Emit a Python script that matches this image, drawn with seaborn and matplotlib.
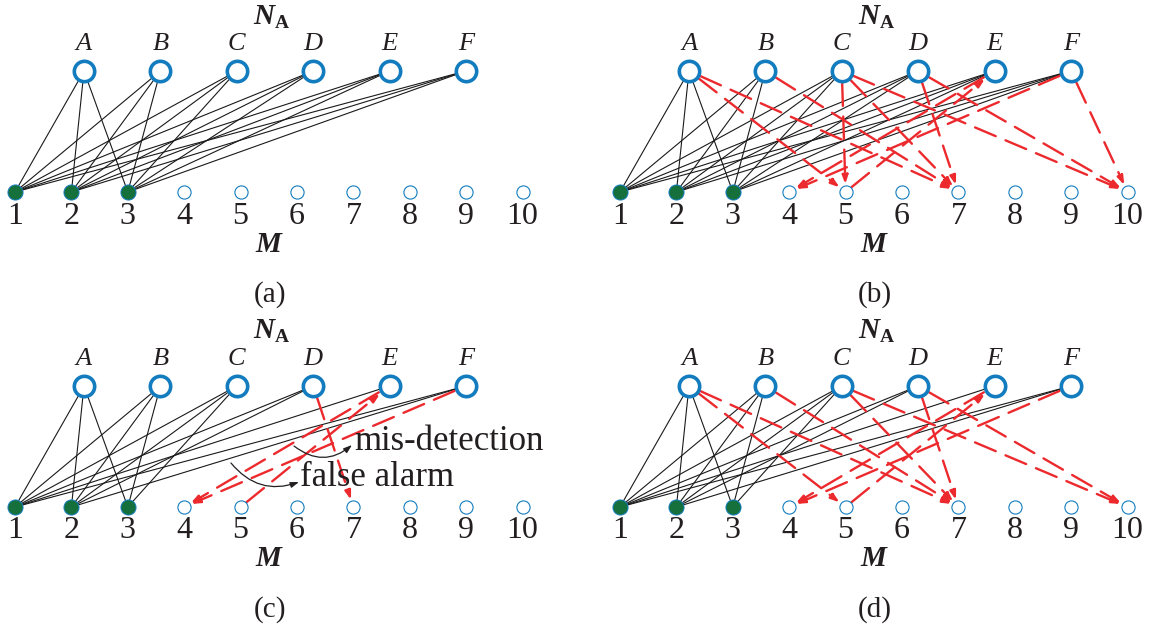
import numpy as np
import pandas as pd
import matplotlib
matplotlib.use("Agg")
import matplotlib.pyplot as plt
import seaborn as sns

# ---------------- data ----------------
top_labels = ["A", "B", "C", "D", "E", "F"]
bottom_labels = ["1", "2", "3", "4", "5", "6", "7", "8", "9", "10"]
active_bottom = ["1", "2", "3"]
panel_captions = ["(a)", "(b)", "(c)", "(d)"]

black_a = ["A1", "A2", "A3", "B1", "B2", "B3", "C1", "C2", "C3",
           "D1", "D2", "D3", "E1", "E2", "E3", "F1", "F2", "F3"]
black_b = ["A1", "A2", "A3", "B1", "B2", "B3", "C1", "C2", "C3",
           "D1", "D2", "D3", "E1", "E2", "E3", "F1", "F2", "F3"]
black_c = ["A1", "A2", "A3", "B1", "B2", "B3", "C1", "C2", "C3",
           "D1", "D2", "E1", "F1", "F2"]
black_d = ["A1", "A2", "A3", "B1", "B2", "B3", "C1", "C2", "C3",
           "D1", "D2", "E1", "F1", "F2"]

red_a = []
red_b = [("A", "5"), ("A", "7"), ("B", "7"), ("C", "5"), ("C", "7"), ("C", "10"),
         ("D", "7"), ("D", "10"), ("E", "4"), ("F", "4"), ("5", "E"), ("F", "10")]
red_c = [("D", "7"), ("E", "4"), ("F", "4"), ("5", "E")]
red_d = [("A", "5"), ("A", "7"), ("B", "7"), ("C", "7"), ("C", "10"),
         ("D", "7"), ("D", "10"), ("E", "4"), ("F", "4"), ("5", "E")]

black_edges = [black_a, black_b, black_c, black_d]
red_edges = [red_a, red_b, red_c, red_d]

annot_texts = ["mis-detection", "false alarm"]

# ---------------- layout / style ----------------
W, H = 1159, 630
OFFSETS = [(0, 0), (605, 0), (0, 315), (605, 315)]
TOP_X0, TOP_DX, TOP_Y = 84, 76.4, 71
BOT_X0, BOT_DX, BOT_Y = 15, 56.4, 192
BLUE = "#137cbf"
GREEN = "#16703c"
RED = "#ec2a2e"
INK = "#231f20"

sns.set_style("white")
plt.rcParams["font.family"] = ["Liberation Serif", "DejaVu Serif"]


def pos(node, p):
    ox, oy = OFFSETS[p]
    if node in top_labels:
        return ox + TOP_X0 + top_labels.index(node) * TOP_DX, oy + TOP_Y
    return ox + BOT_X0 + bottom_labels.index(node) * BOT_DX, oy + BOT_Y


def split_edge(e):
    return e[0], e[1:]


fig = plt.figure(figsize=(W / 100, H / 100), dpi=100)
ax = fig.add_axes([0, 0, 1, 1])

# black edges
rows = []
for p, edges in enumerate(black_edges):
    for e in edges:
        t, b = split_edge(e)
        for n in (t, b):
            x, y = pos(n, p)
            rows.append({"x": x, "y": y, "edge": f"{p}-{e}"})
df_black = pd.DataFrame(rows)
sns.lineplot(data=df_black, x="x", y="y", units="edge", estimator=None,
             sort=False, color="#1a1a1a", lw=0.8, ax=ax, zorder=2, legend=False)

# red dashed arrows
for p, edges in enumerate(red_edges):
    for s, d in edges:
        xs, ys = pos(s, p)
        xd, yd = pos(d, p)
        sA = 9.0 if s in top_labels else 5.5
        sB = 9.0 if d in top_labels else 5.5
        ax.annotate("", xy=(xd, yd), xytext=(xs, ys),
                    arrowprops=dict(arrowstyle="-|>,head_length=0.5,head_width=0.17",
                                    color=RED, lw=1.7, linestyle=(0, (9.5, 4.5)),
                                    shrinkA=sA, shrinkB=sB),
                    zorder=2.5)

# nodes
node_rows = []
for p in range(4):
    for n in top_labels:
        x, y = pos(n, p)
        node_rows.append({"x": x, "y": y, "kind": "top", "label": n, "panel": p})
    for n in bottom_labels:
        x, y = pos(n, p)
        kind = "active" if n in active_bottom else "idle"
        node_rows.append({"x": x, "y": y, "kind": kind, "label": n, "panel": p})
df_nodes = pd.DataFrame(node_rows)

sns.scatterplot(data=df_nodes[df_nodes.kind == "top"], x="x", y="y", s=215,
                facecolor="white", edgecolor=BLUE, linewidth=2.6, ax=ax,
                zorder=4, legend=False)
sns.scatterplot(data=df_nodes[df_nodes.kind == "idle"], x="x", y="y", s=90,
                facecolor="white", edgecolor=BLUE, linewidth=0.8, ax=ax,
                zorder=4, legend=False)
sns.scatterplot(data=df_nodes[df_nodes.kind == "active"], x="x", y="y", s=118,
                facecolor=GREEN, edgecolor=BLUE, linewidth=0.7, ax=ax,
                zorder=4, legend=False)

# labels
for _, r in df_nodes.iterrows():
    if r.kind == "top":
        ax.text(r.x, r.y - 27, r.label, ha="center", va="center",
                fontsize=19, style="italic", color=INK)
    else:
        ax.text(r.x, r.y + 24, r.label, ha="center", va="center",
                fontsize=23, color=INK)

for p in range(4):
    ox, oy = OFFSETS[p]
    ax.text(ox + 264, oy + 16, "N", ha="center", va="center", fontsize=21,
            style="italic", weight="bold", color=INK)
    ax.text(ox + 282, oy + 23, "A", ha="center", va="center", fontsize=14,
            weight="bold", color=INK)
    ax.text(ox + 268, oy + 244, "M", ha="center", va="center", fontsize=21,
            style="italic", weight="bold", color=INK)
    ax.text(ox + 270, oy + 295, panel_captions[p], ha="center", va="center",
            fontsize=21, color=INK)

# annotations in panel (c)
ox, oy = OFFSETS[2]
ax.text(ox + 354, oy + 126, annot_texts[0], ha="left", va="center",
        fontsize=25, color=INK, zorder=5)
ax.text(ox + 300, oy + 162, annot_texts[1], ha="left", va="center",
        fontsize=25, color=INK, zorder=5)
ax.annotate("", xy=(ox + 352, oy + 130), xytext=(ox + 294, oy + 131),
            arrowprops=dict(arrowstyle="-|>,head_length=0.5,head_width=0.17",
                            color=INK, lw=0.9, shrinkA=0, shrinkB=0,
                            connectionstyle="arc3,rad=0.4"), zorder=5)
ax.annotate("", xy=(ox + 299, oy + 167), xytext=(ox + 231, oy + 148),
            arrowprops=dict(arrowstyle="-|>,head_length=0.5,head_width=0.17",
                            color=INK, lw=0.9, shrinkA=0, shrinkB=0,
                            connectionstyle="arc3,rad=0.35"), zorder=5)

ax.set_xlim(0, W)
ax.set_ylim(H, 0)
ax.axis("off")
fig.savefig("out.png", dpi=100, facecolor="white")
